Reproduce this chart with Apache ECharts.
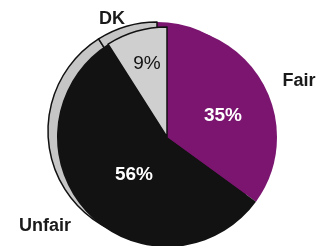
<!DOCTYPE html>
<html>
<head>
<meta charset="utf-8">
<script src="https://cdn.jsdelivr.net/npm/echarts@6/dist/echarts.min.js"></script>
<style>
  html, body { margin: 0; padding: 0; background: #fff; }
  #chart { width: 320px; height: 246px; }
</style>
</head>
<body>
<div id="chart"></div>
<script>
// answers, clockwise from 12 o'clock
var categories = ['Fair', 'Unfair', 'DK'];
var shares = [35, 56, 9];

var sliceColors = ['#7b1570', '#121212', '#cfcfcf'];
var rimColors = ['#7b1570', '#c6c6c6', '#c6c6c6'];
var pctColors = ['#ffffff', '#ffffff', '#111111'];

// label spots (px) for each answer, same order as categories
var pctSpots = [[223, 116], [134, 175], [147, 64]];
var nameSpots = [[299, 81], [45, 226], [112, 19]];

var chart = echarts.init(document.getElementById('chart'));

function build(colorList, extra) {
  var res = [];
  for (var i = 0; i < categories.length; i++) {
    var item = { name: categories[i], value: shares[i], itemStyle: { color: colorList[i] } };
    if (extra) extra(item, i);
    res.push(item);
  }
  return res;
}

chart.setOption({
  animation: false,
  backgroundColor: '#ffffff',
  series: [
    {
      // back disc, gives the thick grey edge
      type: 'pie',
      silent: true,
      center: [157, 131],
      radius: 109,
      startAngle: 90,
      clockwise: true,
      label: { show: false },
      labelLine: { show: false },
      data: build(rimColors, function (item, i) {
        item.itemStyle.borderColor = '#111';
        item.itemStyle.borderWidth = i === 0 ? 0 : 1.5;
      })
    },
    {
      type: 'pie',
      silent: true,
      center: [167, 137],
      radius: 110,
      startAngle: 90,
      clockwise: true,
      labelLine: { show: false },
      label: {
        show: true,
        position: 'inside',
        formatter: '{c}%',
        fontFamily: 'Liberation Sans',
        fontSize: 19
      },
      labelLayout: function (p) {
        var s = pctSpots[p.dataIndex];
        return { x: s[0], y: s[1], align: 'center', verticalAlign: 'middle' };
      },
      data: build(sliceColors, function (item, i) {
        item.label = { color: pctColors[i], fontWeight: i === 2 ? 'normal' : 'bold' };
        item.itemStyle.borderColor = '#111';
        item.itemStyle.borderWidth = i === 2 ? 1.5 : 0;
      })
    },
    {
      // category names around the pie
      type: 'pie',
      silent: true,
      center: [167, 137],
      radius: 110,
      startAngle: 90,
      clockwise: true,
      itemStyle: { color: 'transparent' },
      labelLine: { show: false },
      label: {
        show: true,
        position: 'outside',
        overflow: 'none',
        formatter: '{b}',
        color: '#1a1a1a',
        fontFamily: 'Liberation Sans',
        fontWeight: 'bold',
        fontSize: 18
      },
      labelLayout: function (p) {
        var s = nameSpots[p.dataIndex];
        return { x: s[0], y: s[1], align: 'center', verticalAlign: 'middle' };
      },
      data: build(['transparent', 'transparent', 'transparent'])
    }
  ]
});
</script>
</body>
</html>
